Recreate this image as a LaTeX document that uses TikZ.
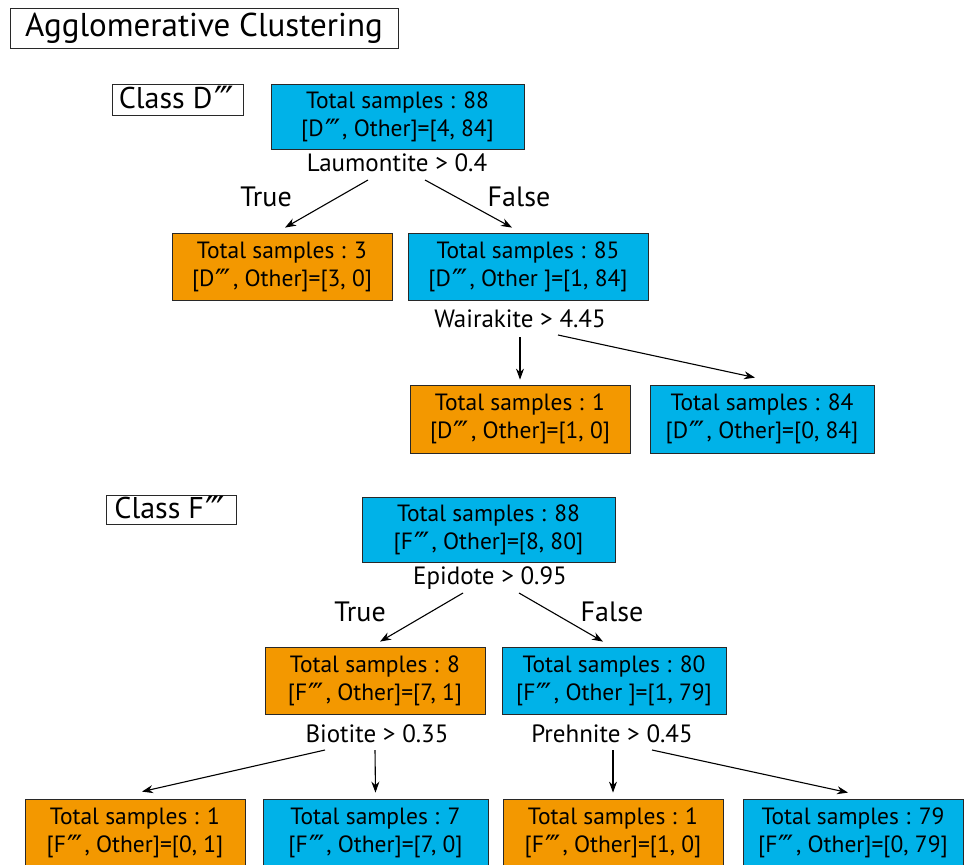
\documentclass[tikz,border=0pt]{standalone}
\usepackage{fontspec}
\setmainfont{PT Sans}
\newfontfamily\djv{DejaVu Sans}
\usetikzlibrary{arrows.meta,calc}
\definecolor{cy}{RGB}{0,178,232}
\definecolor{orng}{RGB}{243,152,0}
\definecolor{edgec}{RGB}{40,40,40}
\newcommand{\tpr}{\kern0.06em\raisebox{-0.17em}{\scalebox{1.25}{\djv ‴}}\kern0.08em}
\begin{document}
\begin{tikzpicture}[x=1pt,y=-1pt,
  box/.style={draw=edgec,line width=0.8pt,inner sep=0pt,align=center,font=\fontsize{23.5}{28}\selectfont},
  cbox/.style={box,fill=cy},
  obox/.style={box,fill=orng},
  cond/.style={font=\fontsize{25}{28}\selectfont,inner sep=0pt},
  tf/.style={font=\fontsize{28}{32}\selectfont,inner sep=0pt},
  lbl/.style={draw=edgec,line width=0.8pt,inner sep=0pt},
  arr/.style={-{Stealth[length=11pt,width=8pt]},line width=1.1pt}]
\useasboundingbox[fill=white] (0,0) rectangle (968,864);

% titles
\node[lbl,minimum width=388pt,minimum height=40pt,font=\fontsize{33}{38}\selectfont] (title) at (204,28) {Agglomerative Clustering};
\node[lbl,minimum width=131pt,minimum height=31pt,font=\fontsize{30}{34}\selectfont] (classD) at (177.5,99.5) {Class D\tpr};
\node[lbl,minimum width=130pt,minimum height=29pt,font=\fontsize{30}{34}\selectfont] (classF) at (171,509.5) {Class F\tpr};

% tree D
\node[cbox,minimum width=253pt,minimum height=65pt] (rd) at (397.5,116.5) {Total samples : 88\\{[}D\tpr, Other]=[4, 84]};
\node[cond] (lau) at (397,163) {Laumontite > 0.4};
\node[tf] (trueD) at (266,197) {True};
\node[tf] (falseD) at (519,197) {False};
\node[obox,minimum width=220pt,minimum height=67pt] (o2) at (282,266.5) {Total samples : 3\\{[}D\tpr, Other]=[3, 0]};
\node[cbox,minimum width=240pt,minimum height=67pt] (c2) at (528,266.5) {Total samples : 85\\{[}D\tpr, Other ]=[1, 84]};
\node[cond] (wai) at (520,319) {Wairakite > 4.45};
\node[obox,minimum width=220pt,minimum height=68pt] (o3) at (520,419) {Total samples : 1\\{[}D\tpr, Other]=[1, 0]};
\node[cbox,minimum width=224pt,minimum height=68pt] (c3) at (762,419) {Total samples : 84\\{[}D\tpr, Other]=[0, 84]};

\draw[arr] ($(lau)+(-29,17)$) -- ($(o2.north)+(3,-5)$);
\draw[arr] ($(lau)+(28,17)$) -- ($(c2.north)+(-16,-5)$);
\draw[arr] ($(wai)+(0,18)$) -- ($(o3.north)+(0,-5)$);
\draw[arr] ($(wai)+(38,16)$) -- ($(c3.north)+(-7,-7)$);

% tree F
\node[cbox,minimum width=253pt,minimum height=65pt] (rf) at (488.5,529.5) {Total samples : 88\\{[}F\tpr, Other]=[8, 80]};
\node[cond] (epi) at (490,578) {Epidote > 0.95};
\node[tf] (trueF) at (360,612) {True};
\node[tf] (falseF) at (612,612) {False};
\node[obox,minimum width=220pt,minimum height=67pt] (of2) at (375,680.5) {Total samples : 8\\{[}F\tpr, Other]=[7, 1]};
\node[cbox,minimum width=224pt,minimum height=67pt] (cf2) at (614,680.5) {Total samples : 80\\{[}F\tpr, Other ]=[1, 79]};
\node[cond] (bio) at (377,734) {Biotite > 0.35};
\node[cond] (pre) at (612,734) {Prehnite > 0.45};
\node[obox,minimum width=220pt,minimum height=67pt] (of3a) at (135,832.5) {Total samples : 1\\{[}F\tpr, Other]=[0, 1]};
\node[cbox,minimum width=225pt,minimum height=67pt] (cf3b) at (375.5,832.5) {Total samples : 7\\{[}F\tpr, Other]=[7, 0]};
\node[obox,minimum width=220pt,minimum height=67pt] (of3c) at (613,832.5) {Total samples : 1\\{[}F\tpr, Other]=[1, 0]};
\node[cbox,minimum width=220pt,minimum height=67pt] (cf3d) at (853,832.5) {Total samples : 79\\{[}F\tpr, Other]=[0, 79]};

\draw[arr] ($(epi)+(-27,15)$) -- ($(of2.north)+(5,-5)$);
\draw[arr] ($(epi)+(29,15)$) -- ($(cf2.north)+(-11,-5)$);
\draw[arr] ($(bio)+(-52,16)$) -- ($(of3a.north)+(7,-7)$);
\draw[arr] ($(bio)+(-2,16)$) -- ($(cf3b.north)+(0,-6)$);
\draw[arr] ($(pre)+(1,16)$) -- ($(of3c.north)+(0,-6)$);
\draw[arr] ($(pre)+(40,16)$) -- ($(cf3d.north)+(-5,-6)$);
\end{tikzpicture}
\end{document}
